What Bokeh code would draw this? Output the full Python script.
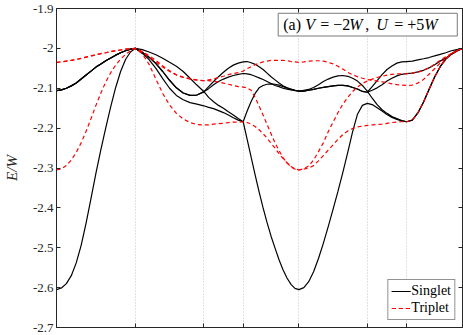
from bokeh.plotting import figure
from bokeh.models import (FixedTicker, CustomJSTickFormatter, LinearAxis, Range1d,
                          BoxAnnotation, Label)
from bokeh.embed import file_html
from bokeh.resources import INLINE

# ---- k-path coordinate (path length) ----
K = [0.0, 0.125, 0.25, 0.375, 0.5, 0.625, 0.75, 0.875, 1.0, 1.125, 1.25, 1.375, 1.5, 1.625, 1.75, 1.875, 2.0,
     2.173, 2.346, 2.52, 2.693, 2.866, 3.039, 3.212, 3.386, 3.559, 3.732,
     3.857, 3.982, 4.107, 4.232, 4.357, 4.482, 4.607, 4.732,
     4.833, 4.934, 5.035, 5.136, 5.237, 5.338, 5.439, 5.54, 5.641, 5.742, 5.843, 5.944, 6.045, 6.146,
     6.27, 6.393, 6.517, 6.641, 6.764, 6.888, 7.012, 7.136, 7.259, 7.383, 7.507, 7.63, 7.754, 7.878,
     8.003, 8.128, 8.253, 8.378, 8.503, 8.628, 8.753, 8.878,
     9.019, 9.16, 9.302, 9.443, 9.585, 9.726, 9.867, 10.009, 10.15, 10.292]
K_TICKS = [2.0, 3.732, 4.732, 6.146, 7.878, 8.878]
K_MAX = 10.292
Y_TICKS = [-2.7, -2.6, -2.5, -2.4, -2.3, -2.2, -2.1, -2.0, -1.9]

# shared pieces
S_SEG1_UPPER = [-2.106, -2.104, -2.100, -2.094, -2.087, -2.077, -2.067, -2.057, -2.047, -2.039,
                -2.031, -2.024, -2.017, -2.011, -2.006, -2.002, -2.0]
S_SEG2_B = [-2.010, -2.022, -2.038, -2.058, -2.080, -2.099, -2.112, -2.118, -2.117, -2.109]
S_SEG5_LOW = [-2.107, -2.105, -2.103, -2.100, -2.098, -2.096, -2.094, -2.093, -2.093, -2.094,
              -2.098, -2.102, -2.108, -2.110]
S_SEG7_LOW = [-2.180, -2.162, -2.135, -2.103, -2.072, -2.046, -2.027, -2.014, -2.005, -2.0]
T_SEG1_UPPER = [-2.035, -2.034, -2.032, -2.030, -2.028, -2.025, -2.022, -2.019, -2.016, -2.013,
                -2.011, -2.008, -2.006, -2.004, -2.002, -2.001, -2.0]

# ---- singlet bands (E/W) ----
SINGLET_1 = ([-2.605, -2.601, -2.590, -2.570, -2.538, -2.494, -2.438, -2.376, -2.313, -2.254,
              -2.199, -2.146, -2.098, -2.058, -2.028, -2.009, -2.0]
             + [-2.003, -2.009, -2.016, -2.025, -2.035, -2.045, -2.058, -2.075, -2.092, -2.108]
             + [-2.123, -2.134, -2.143, -2.150, -2.159, -2.167, -2.176, -2.184]
             + [-2.228, -2.273, -2.317, -2.360, -2.400, -2.437, -2.471, -2.501, -2.530, -2.555,
                -2.576, -2.592, -2.602, -2.605]
             + [-2.600, -2.585, -2.560, -2.527, -2.489, -2.447, -2.403, -2.358, -2.311, -2.261,
                -2.209, -2.165, -2.143, -2.138]
             + [-2.141, -2.149, -2.157, -2.166, -2.173, -2.178, -2.182, -2.184]
             + S_SEG7_LOW)
SINGLET_2 = (S_SEG1_UPPER + S_SEG2_B
             + [-2.096, -2.083, -2.071, -2.060, -2.050, -2.042, -2.037, -2.034]
             + [-2.033, -2.036, -2.040, -2.046, -2.053, -2.062, -2.071, -2.079, -2.087, -2.094,
                -2.099, -2.103, -2.105, -2.107]
             + [-2.105, -2.103, -2.098, -2.091, -2.083, -2.077, -2.072, -2.069, -2.068, -2.070,
                -2.075, -2.082, -2.093, -2.107]
             + [-2.125, -2.141, -2.154, -2.163, -2.171, -2.176, -2.181, -2.184]
             + S_SEG7_LOW)
SINGLET_3 = (S_SEG1_UPPER + S_SEG2_B
             + [-2.101, -2.091, -2.083, -2.077, -2.072, -2.068, -2.065, -2.063]
             + [-2.064, -2.066, -2.070, -2.074, -2.078, -2.083, -2.088, -2.093, -2.096, -2.100,
                -2.102, -2.104, -2.106, -2.107]
             + S_SEG5_LOW
             + [-2.105, -2.099, -2.091, -2.082, -2.075, -2.069, -2.065, -2.063]
             + [-2.062, -2.059, -2.055, -2.049, -2.041, -2.032, -2.024, -2.015, -2.007, -2.0])
SINGLET_4 = (S_SEG1_UPPER
             + [-2.012, -2.028, -2.050, -2.076, -2.100, -2.118, -2.129, -2.136, -2.140, -2.144]
             + [-2.148, -2.151, -2.156, -2.161, -2.167, -2.174, -2.180, -2.184]
             + [-2.157, -2.133, -2.113, -2.099, -2.093, -2.090, -2.089, -2.090, -2.092, -2.096,
                -2.099, -2.102, -2.105, -2.107]
             + S_SEG5_LOW
             + [-2.096, -2.081, -2.066, -2.053, -2.044, -2.037, -2.034, -2.033]
             + [-2.032, -2.029, -2.026, -2.023, -2.019, -2.015, -2.011, -2.006, -2.003, -2.0])

# ---- triplet bands (E/W) ----
TRIPLET_1 = (T_SEG1_UPPER
             + [-2.008, -2.018, -2.030, -2.044, -2.056, -2.066, -2.072, -2.076, -2.079, -2.081]
             + [-2.081, -2.083, -2.084, -2.087, -2.090, -2.093, -2.096, -2.097]
             + [-2.099, -2.105, -2.123, -2.145, -2.167, -2.191, -2.214, -2.237, -2.256, -2.274,
                -2.287, -2.297, -2.303, -2.305]
             + [-2.302, -2.295, -2.280, -2.259, -2.237, -2.209, -2.185, -2.161, -2.140, -2.123,
                -2.108, -2.097, -2.088, -2.082]
             + [-2.077, -2.073, -2.070, -2.067, -2.065, -2.064, -2.064, -2.064]
             + [-2.062, -2.060, -2.055, -2.049, -2.040, -2.030, -2.021, -2.013, -2.006, -2.0])
TRIPLET_2 = ([-2.305, -2.302, -2.294, -2.280, -2.261, -2.237, -2.208, -2.176, -2.143, -2.112,
              -2.084, -2.061, -2.042, -2.027, -2.015, -2.006, -2.0]
             + [-2.013, -2.040, -2.077, -2.113, -2.142, -2.163, -2.177, -2.186, -2.191, -2.192]
             + [-2.192, -2.190, -2.189, -2.188, -2.186, -2.185, -2.185, -2.184]
             + [-2.186, -2.190, -2.196, -2.204, -2.214, -2.225, -2.238, -2.250, -2.264, -2.276,
                -2.287, -2.296, -2.302, -2.305]
             + [-2.303, -2.300, -2.294, -2.282, -2.269, -2.255, -2.242, -2.228, -2.216, -2.207,
                -2.201, -2.197, -2.195, -2.193]
             + [-2.192, -2.191, -2.190, -2.188, -2.186, -2.185, -2.184, -2.184]
             + S_SEG7_LOW)
TRIPLET_3 = (T_SEG1_UPPER
             + [-2.009, -2.021, -2.034, -2.047, -2.058, -2.067, -2.073, -2.077, -2.080, -2.081]
             + [-2.079, -2.077, -2.073, -2.070, -2.066, -2.063, -2.061, -2.057]
             + [-2.051, -2.046, -2.041, -2.037, -2.034, -2.032, -2.030, -2.030, -2.030, -2.030,
                -2.031, -2.033, -2.034, -2.035]
             + [-2.034, -2.032, -2.031, -2.031, -2.032, -2.035, -2.039, -2.045, -2.052, -2.060,
                -2.066, -2.071, -2.075, -2.078]
             + [-2.080, -2.082, -2.084, -2.086, -2.089, -2.091, -2.092, -2.093]
             + [-2.092, -2.087, -2.078, -2.065, -2.051, -2.037, -2.025, -2.015, -2.006, -2.0])

SINGLET = [SINGLET_1, SINGLET_2, SINGLET_3, SINGLET_4]
TRIPLET = [TRIPLET_1, TRIPLET_2, TRIPLET_3]
for band in SINGLET + TRIPLET:
    assert len(band) == len(K), len(band)

FONT = "Liberation Serif"
AX = "#262626"

p = figure(width=463, height=335, output_backend="svg", toolbar_location=None,
           x_range=Range1d(0, K_MAX), y_range=Range1d(-2.7, -1.9),
           min_border_left=52, min_border_right=1, min_border_top=8, min_border_bottom=8,
           background_fill_color="white", border_fill_color="white")
p.outline_line_color = AX
p.outline_line_width = 1

for band in SINGLET:
    p.line(K, band, line_color="black", line_width=1.2, legend_label="Singlet")
for band in TRIPLET:
    p.line(K, band, line_color="#ff0000", line_width=1.2, line_dash="4 3", legend_label="Triplet")

# axes
p.xaxis.ticker = FixedTicker(ticks=K_TICKS)
p.xaxis.formatter = CustomJSTickFormatter(code="return '';")
p.xaxis.major_label_text_font_size = "0px"
p.xaxis.major_label_standoff = 0
p.yaxis.ticker = FixedTicker(ticks=Y_TICKS)
p.yaxis.formatter = CustomJSTickFormatter(code="return tick.toFixed(1).replace(/\\.0$/, '');")
p.yaxis.major_label_text_font = FONT
p.yaxis.major_label_text_font_size = "13px"
p.yaxis.major_label_text_color = "#262626"
p.yaxis.major_label_standoff = 3
p.yaxis.axis_label = "E/W"
p.yaxis.axis_label_text_font = FONT
p.yaxis.axis_label_text_font_style = "italic"
p.yaxis.axis_label_text_font_size = "15px"
p.yaxis.axis_label_text_color = "#262626"
p.yaxis.axis_label_standoff = 10
for ax in (p.xaxis[0], p.yaxis[0]):
    ax.axis_line_color = AX
    ax.major_tick_line_color = AX
    ax.major_tick_in = 4
    ax.major_tick_out = 0
    ax.minor_tick_line_color = None

top = LinearAxis(ticker=FixedTicker(ticks=K_TICKS), formatter=CustomJSTickFormatter(code="return '';"))
right = LinearAxis(ticker=FixedTicker(ticks=Y_TICKS), formatter=CustomJSTickFormatter(code="return '';"))
for ax in (top, right):
    ax.axis_line_color = AX
    ax.major_tick_line_color = AX
    ax.major_tick_in = 4
    ax.major_tick_out = 0
    ax.minor_tick_line_color = None
    ax.major_label_text_font_size = "0px"
    ax.major_label_standoff = 0
p.add_layout(top, "above")
p.add_layout(right, "right")

p.xgrid.ticker = FixedTicker(ticks=K_TICKS)
p.xgrid.grid_line_color = "#c4c4c4"
p.xgrid.grid_line_dash = "1 2"
p.xgrid.grid_line_width = 1
p.ygrid.visible = False

# annotation box
box_left, box_right, box_top, box_bottom = 5.62, 10.16, -1.912, -1.969
p.add_layout(BoxAnnotation(left=box_left, right=box_right, top=box_top, bottom=box_bottom,
                           fill_color="white", fill_alpha=1.0, line_color="#7a7a7a",
                           line_width=1, line_alpha=1.0))
pieces = [("(a)", "normal", 5), ("V", "italic", 27), ("= \u22122", "normal", 42), ("W", "italic", 71),
          (",", "normal", 87), ("U", "italic", 98), ("= +5", "normal", 116), ("W", "italic", 146)]
for txt, style, off in pieces:
    p.add_layout(Label(x=box_left, y=(box_top + box_bottom) / 2, x_offset=off, text=txt,
                       text_font=FONT, text_font_style=style, text_font_size="16px",
                       text_baseline="middle", text_align="left", text_color="black"))

# legend
lg = p.legend[0]
lg.location = "bottom_right"
lg.margin = 7
lg.label_text_font = FONT
lg.label_text_font_size = "14px"
lg.label_text_color = "black"
lg.glyph_width = 19
lg.glyph_height = 14
lg.label_height = 14
lg.label_standoff = 1
lg.padding = 3
lg.spacing = 1
lg.border_line_color = AX
lg.border_line_width = 1
lg.background_fill_color = "white"
lg.background_fill_alpha = 1.0

open("out.html", "w").write(file_html(p, INLINE))
